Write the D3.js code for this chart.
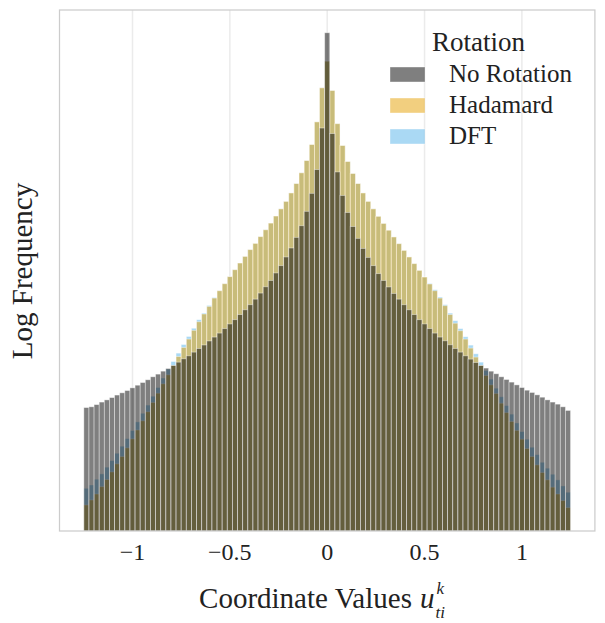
<!DOCTYPE html>
<html>
<head>
<meta charset="utf-8">
<script src="https://cdn.jsdelivr.net/npm/d3@7"></script>
<style>
  html, body { margin: 0; padding: 0; background: #fff; }
  svg { display: block; }
  text { font-family: "Liberation Serif", "Times New Roman", serif; fill: #222; }
</style>
</head>
<body>
<svg id="chart" width="605" height="623"></svg>
<script>
// ---------- data ----------
const xMin = -1.25, xMax = 1.25, nBins = 95;
const seriesNames = ["No Rotation", "Hadamard", "DFT"];
const xTicks = [-1, -0.5, 0, 0.5, 1];
const xTickLabels = ["\u22121", "\u22120.5", "0", "0.5", "1"];

const countsNoRotation = [
  1710, 1740, 1830, 1940, 2040, 2150, 2280, 2400, 2530, 2690,
  2860, 3040, 3240, 3470, 3690, 3950, 4200, 4500, 4860, 5250,
  5620, 6120, 6650, 7210, 7910, 8650, 9480, 10500, 11700, 12900,
  14500, 16200, 18200, 20700, 23800, 27500, 31800, 37800, 44700, 54600,
  67100, 85700, 112000, 156000, 236000, 407000, 1060000,
  9480000,
  933000, 386000, 225000, 152000, 110000, 83800, 66500, 54100, 44700, 37200,
  31800, 27400, 23600, 20700, 18200, 16200, 14500, 12900, 11700, 10500,
  9480, 8650, 7940, 7240, 6650, 6120, 5620, 5210, 4820, 4500,
  4240, 3950, 3720, 3470, 3260, 3070, 2880, 2710, 2550, 2420,
  2290, 2170, 2040, 1940, 1850, 1740, 1600
];
const countsHadamard = [
  182, 204, 234, 277, 326, 389, 468, 553, 676, 832,
  1020, 1260, 1550, 1920, 2380, 2950, 3630, 4500, 5530, 6810,
  8260, 10100, 12300, 14700, 17500, 21200, 25100, 29500, 34700, 40700,
  47500, 55300, 64600, 74600, 87100, 102000, 119000, 140000, 165000, 196000,
  238000, 295000, 378000, 501000, 724000, 1220000, 2670000,
  4930000,
  2510000, 1170000, 708000, 490000, 372000, 295000, 238000, 196000, 165000, 139000,
  118000, 101000, 86500, 74100, 63500, 54600, 46800, 40100, 34400, 29300,
  25100, 21200, 17800, 14500, 11900, 10000, 8260, 6710, 5460, 4500,
  3570, 2880, 2360, 1890, 1520, 1240, 1010, 826, 665, 553,
  457, 383, 324, 274, 234, 201, 171
];
const countsDFT = [
  267, 288, 329, 372, 434, 505, 598, 703, 838, 1010,
  1230, 1500, 1810, 2220, 2710, 3370, 4140, 4930, 5980, 7290,
  8770, 10600, 12900, 15000, 17900, 21500,
  25100, 29500, 34700, 40700,
  47500, 55300, 64600, 74600, 87100, 102000, 119000, 140000, 165000, 196000,
  238000, 295000, 378000, 501000, 724000, 1220000, 2670000,
  4930000,
  2510000, 1170000, 708000, 490000, 372000, 295000, 238000, 196000, 165000, 139000,
  118000, 101000, 86500, 74100, 63500, 54600, 46800, 40100, 34400,
  29700, 25700, 21700, 18200, 15000, 12600, 10500, 8710, 7190, 5890,
  4860, 4010, 3290, 2670, 2190, 1790, 1470, 1200, 984, 826,
  687, 579, 486, 424, 369, 324, 282, 244
];

// ---------- layout ----------
const svg = d3.select("#chart");
const plot = { left: 59.5, right: 594.9, top: 10, bottom: 531 };
const colors = { "No Rotation": "#000000", "Hadamard": "#E69F00", "DFT": "#56B4E9" };
const seriesData = { "No Rotation": countsNoRotation, "Hadamard": countsHadamard, "DFT": countsDFT };

const x = d3.scaleLinear().domain([-1.375, 1.375]).range([plot.left, plot.right]);
const y = d3.scaleLog().domain([100, 1.6e7]).range([plot.bottom, plot.top]);

const edges = d3.range(nBins + 1).map(i => xMin + i * (xMax - xMin) / nBins);

// grid lines
svg.append("g").selectAll("line").data(xTicks).join("line")
  .attr("x1", d => x(d)).attr("x2", d => x(d))
  .attr("y1", plot.top).attr("y2", plot.bottom)
  .attr("stroke", "#ebebeb").attr("stroke-width", 1.5);

// bars: drawn in reverse hue order (DFT, Hadamard, No Rotation on top)
const drawOrder = ["DFT", "Hadamard", "No Rotation"];
drawOrder.forEach(name => {
  const vals = seriesData[name];
  svg.append("g").selectAll("rect").data(vals).join("rect")
    .attr("x", (d, i) => x(edges[i]))
    .attr("width", (d, i) => x(edges[i + 1]) - x(edges[i]))
    .attr("y", d => y(d))
    .attr("height", d => plot.bottom - y(d))
    .attr("fill", colors[name]).attr("fill-opacity", 0.5)
    .attr("stroke", "#ffffff").attr("stroke-opacity", 0.5).attr("stroke-width", 0.8);
});

// frame
svg.append("rect")
  .attr("x", plot.left).attr("y", plot.top)
  .attr("width", plot.right - plot.left).attr("height", plot.bottom - plot.top)
  .attr("fill", "none").attr("stroke", "#cccccc").attr("stroke-width", 1.25);

// x tick labels
svg.append("g").selectAll("text").data(xTicks).join("text")
  .attr("x", d => x(d)).attr("y", 560)
  .attr("text-anchor", "middle").attr("font-size", 24)
  .text((d, i) => xTickLabels[i]);

// x axis title with math
const xt = svg.append("g");
const mainT = xt.append("text").attr("y", 608).attr("font-size", 29).text("Coordinate Values");
const uT = xt.append("text").attr("y", 608).attr("font-size", 29).attr("font-style", "italic").text("u");
const kT = xt.append("text").attr("y", 594).attr("font-size", 17).attr("font-style", "italic").text("k");
const tiT = xt.append("text").attr("y", 618).attr("font-size", 17).attr("font-style", "italic").text("ti");
const wMain = mainT.node().getComputedTextLength();
const gap = 8;
const wU = uT.node().getComputedTextLength();
const wSub = Math.max(kT.node().getComputedTextLength(), tiT.node().getComputedTextLength());
const total = wMain + gap + wU + 1 + wSub;
const startX = 322 - total / 2;
mainT.attr("x", startX);
uT.attr("x", startX + wMain + gap);
kT.attr("x", startX + wMain + gap + wU + 2);
tiT.attr("x", startX + wMain + gap + wU + 1);

// y axis title
svg.append("text")
  .attr("transform", "translate(32,271) rotate(-90)")
  .attr("text-anchor", "middle").attr("font-size", 29)
  .text("Log Frequency");

// legend
const lg = svg.append("g");
lg.append("text").attr("x", 432).attr("y", 51).attr("font-size", 27).text("Rotation");
seriesNames.forEach((name, i) => {
  const yy = 67 + i * 31;
  lg.append("rect").attr("x", 390).attr("y", yy).attr("width", 35).attr("height", 15)
    .attr("fill", colors[name]).attr("fill-opacity", 0.5)
    .attr("stroke", "#ffffff").attr("stroke-opacity", 0.5).attr("stroke-width", 0.8);
  lg.append("text").attr("x", 449).attr("y", yy + 15).attr("font-size", 25).text(name);
});
</script>
</body>
</html>
